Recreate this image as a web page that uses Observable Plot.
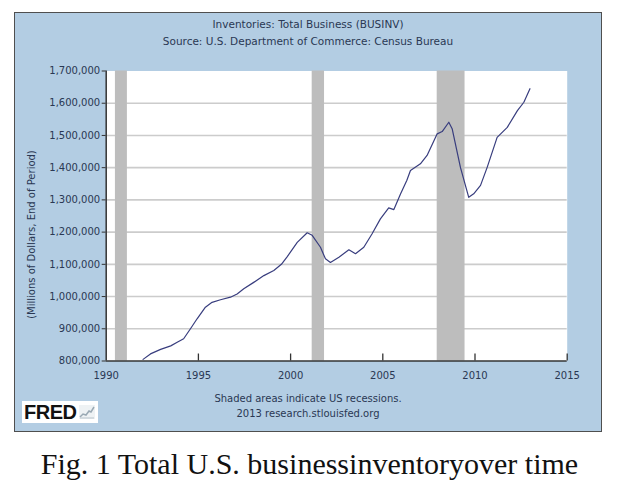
<!DOCTYPE html>
<html><head><meta charset="utf-8">
<script src="https://cdn.jsdelivr.net/npm/d3@7"></script>
<script src="https://cdn.jsdelivr.net/npm/@observablehq/plot@0.6"></script>
<style>
body{margin:0;background:#fff;}
#wrap{position:relative;width:619px;height:490px;overflow:hidden;font-family:"DejaVu Sans",sans-serif;color:#2a3853;}
#panel{position:absolute;left:14px;top:12px;width:588px;height:420px;box-sizing:border-box;border:1.5px solid #4f4f4f;background:#b3cde3;}
.t{position:absolute;left:14px;width:588px;text-align:center;white-space:nowrap;}
#chart{position:absolute;left:14px;top:55px;}
#ylab{position:absolute;left:-89px;top:229px;width:240px;text-align:center;transform:rotate(-90deg);font-size:10px;white-space:nowrap;}
#logo{position:absolute;left:22px;top:401px;width:76px;height:22px;background:#fff;}
#logo span{position:absolute;left:2px;top:0px;font-family:"Liberation Sans",sans-serif;font-weight:bold;font-size:20px;line-height:22px;color:#111;letter-spacing:-0.5px;}
#logo svg{position:absolute;left:57px;top:4px;}
#cap{position:absolute;left:0;top:449px;width:619px;text-align:center;font-family:"Liberation Serif",serif;font-size:30px;line-height:30px;color:#111;white-space:nowrap;}
</style></head>
<body>
<div id="wrap">
  <div id="panel"></div>
  <div class="t" id="title" style="top:18px;font-size:10.5px;"></div>
  <div class="t" id="subtitle" style="top:35px;font-size:10.5px;"></div>
  <div id="ylab"></div>
  <div id="chart"></div>
  <div class="t" id="note1" style="top:393px;font-size:10px;"></div>
  <div class="t" id="note2" style="top:408px;font-size:10px;"></div>
  <div id="logo"><span>FRED</span><svg width="16" height="14"><rect x="0" y="0" width="16" height="14" fill="#eef2f4"/><polyline points="1,12 4,9 7,10 10,6 12,7 15,2" fill="none" stroke="#9aa9b4" stroke-width="1.5"/><line x1="1" y1="13" x2="15" y2="13" stroke="#b8c3cb"/></svg></div>
  <div id="cap"></div>
</div>
<script>
const titleText = "Inventories: Total Business (BUSINV)";
const subtitleText = "Source: U.S. Department of Commerce: Census Bureau";
const yLabelText = "(Millions of Dollars, End of Period)";
const note1Text = "Shaded areas indicate US recessions.";
const note2Text = "2013 research.stlouisfed.org";
const captionText = "Fig. 1  Total U.S. businessinventoryover time";

// Inventory series (decimal year, millions of dollars)
const years = [1992.0, 1992.4, 1992.95, 1993.5, 1993.85, 1994.2, 1994.57, 1994.93, 1995.38, 1995.74,
  1996.2, 1996.74, 1997.1, 1997.46, 1998.0, 1998.55, 1999.09, 1999.5, 1999.82, 2000.36,
  2000.9, 2001.17, 2001.62, 2001.89, 2002.16, 2002.62, 2003.16, 2003.52, 2003.97, 2004.42,
  2004.87, 2005.32, 2005.6, 2005.96, 2006.3, 2006.5, 2007.04, 2007.4, 2007.95, 2008.22,
  2008.58, 2008.76, 2009.21, 2009.66, 2009.93, 2010.3, 2010.66, 2011.2, 2011.75, 2012.3,
  2012.65, 2012.98];
const values = [805000, 822000, 836000, 847000, 858000, 869000, 900000, 931000, 967000, 982000,
  990000, 998000, 1008000, 1024000, 1044000, 1065000, 1081000, 1100000, 1124000, 1168000,
  1198000, 1190000, 1153000, 1117000, 1106000, 1122000, 1145000, 1133000, 1153000, 1195000,
  1241000, 1275000, 1270000, 1318000, 1360000, 1391000, 1412000, 1438000, 1505000, 1512000,
  1541000, 1521000, 1401000, 1308000, 1319000, 1345000, 1401000, 1494000, 1525000, 1577000,
  1603000, 1645000];

const recessionStart = [1990.5, 2001.17, 2007.95];
const recessionEnd = [1991.15, 2001.84, 2009.46];

const xTicks = [1990, 1995, 2000, 2005, 2010, 2015];
const yTicks = [800000, 900000, 1000000, 1100000, 1200000, 1300000, 1400000, 1500000, 1600000, 1700000];

document.getElementById("title").textContent = titleText;
document.getElementById("subtitle").textContent = subtitleText;
document.getElementById("ylab").textContent = yLabelText;
document.getElementById("note1").textContent = note1Text;
document.getElementById("note2").textContent = note2Text;
document.getElementById("cap").textContent = captionText;

const series = years.map((t, i) => ({t, v: values[i]}));
const recessions = recessionStart.map((s, i) => ({s, e: recessionEnd[i]}));

const chart = Plot.plot({
  width: 588, height: 340,
  marginLeft: 91.7, marginRight: 35.3, marginTop: 15.5, marginBottom: 34.5,
  style: {background: "transparent", fontFamily: "DejaVu Sans", fontSize: "10px", color: "#2a3853", overflow: "visible"},
  x: {domain: [xTicks[0], xTicks[xTicks.length - 1]]},
  y: {domain: [yTicks[0], yTicks[yTicks.length - 1]]},
  marks: [
    Plot.frame({fill: "white", stroke: "none"}),
    Plot.ruleY(yTicks.slice(1, -1), {stroke: "#cccccc", strokeWidth: 1.6}),
    Plot.rect(recessions, {x1: "s", x2: "e", fill: "#bdbdbd"}),
    Plot.line(series, {x: "t", y: "v", stroke: "#383d7e", strokeWidth: 1.2}),
    Plot.axisY(yTicks, {tickSize: 4, tickPadding: 2, tickFormat: d3.format(","), label: null, stroke: "#333"}),
    Plot.axisX(xTicks, {tickSize: 0, tickPadding: 11, tickFormat: d3.format("d"), label: null}),
    Plot.ruleX(xTicks.slice(1), {x: d => d, y1: yTicks[0], y2: yTicks[0], insetTop: -7, stroke: "#333", strokeWidth: 1.3}),
    Plot.ruleX([xTicks[0]], {stroke: "#333", strokeWidth: 1.5}),
    Plot.ruleY([yTicks[0]], {stroke: "#333", strokeWidth: 1.5})
  ]
});
document.getElementById("chart").appendChild(chart);
</script>
</body></html>
